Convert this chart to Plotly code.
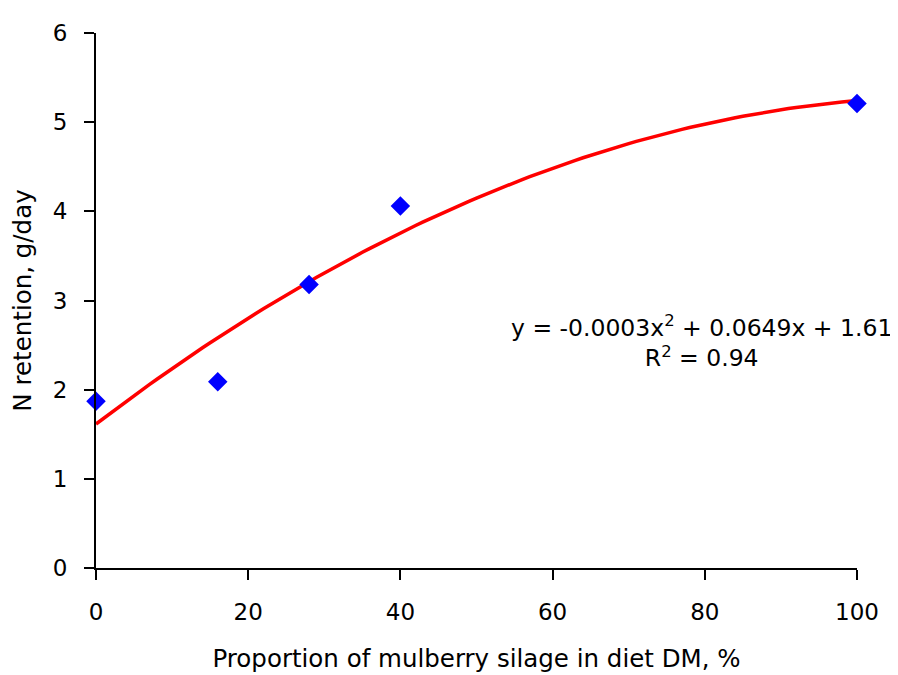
import numpy as np
import plotly.graph_objects as go

proportion = [0, 16, 28, 40, 100]
n_retention = [1.87, 2.09, 3.18, 4.06, 5.21]
x_ticks = [0, 20, 40, 60, 80, 100]
y_ticks = [0, 1, 2, 3, 4, 5, 6]
equation_text = "y = -0.0003x<sup>2</sup> + 0.0649x + 1.61<br>R<sup>2</sup> = 0.94"

coef = np.polyfit(proportion, n_retention, 2)
xf = np.linspace(0, 100, 101)
yf = np.polyval(coef, xf)

font = "DejaVu Sans, Verdana, sans-serif"
fig = go.Figure()
fig.add_trace(go.Scatter(x=xf, y=yf, mode="lines",
                         line=dict(color="#ff0000", width=3.5), hoverinfo="skip"))
fig.add_trace(go.Scatter(x=proportion, y=n_retention, mode="markers",
                         marker=dict(symbol="diamond", color="#0000ff", size=15),
                         cliponaxis=False))
fig.add_annotation(x=79.5, y=2.54, xref="x", yref="y", text=equation_text,
                   showarrow=False, align="center",
                   font=dict(family=font, size=23.5, color="black"))
fig.update_layout(
    width=898, height=675, showlegend=False,
    plot_bgcolor="white", paper_bgcolor="white",
    margin=dict(l=87, r=49, t=21, b=115),
    font=dict(family=font, size=23, color="black"),
)
fig.update_xaxes(range=[0, 100], tickvals=x_ticks, showline=True, linecolor="black",
                 linewidth=2, ticks="outside", ticklen=10, tickwidth=2, tickcolor="black",
                 showgrid=False, zeroline=False, ticklabelstandoff=12,
                 tickfont=dict(size=23),
                 title=dict(text="Proportion of mulberry silage in diet DM, %",
                            font=dict(size=24.5), standoff=26))
fig.update_yaxes(range=[0, 6], tickvals=y_ticks, showline=True, linecolor="black",
                 linewidth=2, ticks="outside", ticklen=10, tickwidth=2, tickcolor="black",
                 showgrid=False, zeroline=False, ticklabelstandoff=12,
                 tickfont=dict(size=23),
                 title=dict(text="N retention, g/day", font=dict(size=24.5), standoff=16))
fig.write_html("out.html")
